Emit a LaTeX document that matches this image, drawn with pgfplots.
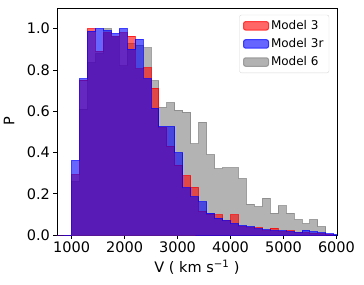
\documentclass[border=0pt]{standalone}
\usepackage{fontspec}
\setmainfont{DejaVu Sans}
\usepackage{pgfplots}
\pgfplotsset{compat=1.18}
\usetikzlibrary{calc}
\definecolor{mgray}{RGB}{128,128,128}
\definecolor{mred}{RGB}{255,0,0}
\definecolor{mblue}{RGB}{0,0,255}
\begin{document}
\begin{tikzpicture}
\begin{axis}[name=ax, width=280pt, height=227pt, scale only axis,
  xmin=725, xmax=6010, ymin=0, ymax=1.1,
  xtick={1000,2000,3000,4000,5000,6000},
  ytick={0,0.2,0.4,0.6,0.8,1.0},
  /pgf/number format/assume math mode=true,
  /pgf/number format/1000 sep={},
  yticklabel style={/pgf/number format/fixed,/pgf/number format/precision=1,/pgf/number format/fixed zerofill},
  tick label style={font=\fontsize{14.5}{16}\selectfont},
  label style={font=\fontsize{14.5}{16}\selectfont},
  tick align=outside, tick pos=left, major tick length=3.5pt,
  every tick/.style={black, line width=0.8pt},
  axis line style={black, line width=0.8pt},
  xlabel={V ( km s\textsuperscript{−1} )},
  legend cell align=left,
  legend style={at={(rel axis cs:0.972,0.97)}, anchor=north east, draw=black!15, rounded corners=2pt,
    font=\fontsize{12}{14}\selectfont, row sep=3.5pt, inner sep=3.5pt},
  legend image code/.code={\draw[#1] (0pt,-4.2pt) rectangle (25pt,4.2pt);},
]
\addlegendimage{fill=mred, fill opacity=0.6, draw=mred, draw opacity=0.7, line width=1pt}
\addlegendentry{Model 3}
\addlegendimage{fill=mblue, fill opacity=0.6, draw=mblue, draw opacity=0.7, line width=1pt}
\addlegendentry{Model 3r}
\addlegendimage{fill=mgray, fill opacity=0.6, draw=mgray, draw opacity=0.7, line width=1pt}
\addlegendentry{Model 6}

\addplot[forget plot, const plot mark left, fill=mgray, fill opacity=0.6, draw=mgray, draw opacity=0.7, line width=1pt] coordinates {
(1000,0.26)(1150,0.61)(1300,0.837)(1450,0.88)(1600,1.0)(1750,0.96)(1900,0.82)(2050,0.93)(2200,0.92)(2350,0.907)(2500,0.748)(2650,0.618)(2800,0.642)(2950,0.605)(3100,0.595)(3250,0.442)(3400,0.547)(3550,0.39)(3700,0.32)(3850,0.325)(4000,0.325)(4150,0.273)(4300,0.15)(4450,0.138)(4600,0.179)(4750,0.106)(4900,0.141)(5050,0.106)(5200,0.075)(5350,0.055)(5500,0.075)(5650,0.04)(5800,0.04)
} \closedcycle;

\addplot[forget plot, const plot mark left, fill=mred, fill opacity=0.6, draw=mred, draw opacity=0.7, line width=1pt] coordinates {
(725,0)(1000,0.293)(1150,0.75)(1300,1.0)(1450,0.89)(1600,0.98)(1750,0.96)(1900,0.98)(2050,0.964)(2200,0.805)(2350,0.81)(2500,0.712)(2650,0.52)(2800,0.431)(2950,0.338)(3100,0.288)(3250,0.231)(3400,0.114)(3550,0.10)(3700,0.098)(3850,0.07)(4000,0.098)(4150,0.04)(4300,0.035)(4450,0.035)(4600,0.02)(4750,0.033)(4900,0.015)(5050,0.02)(5200,0.01)(5350,0.012)(5500,0.008)(5650,0.005)(5800,0.003)(5950,0.003)
} \closedcycle;

\addplot[forget plot, const plot mark left, fill=mblue, fill opacity=0.6, draw=mblue, draw opacity=0.7, line width=1pt] coordinates {
(725,0)(1000,0.36)(1150,0.756)(1300,0.987)(1450,1.0)(1600,0.99)(1750,0.976)(1900,1.0)(2050,0.90)(2200,0.948)(2350,0.756)(2500,0.613)(2650,0.525)(2800,0.525)(2950,0.398)(3100,0.228)(3250,0.185)(3400,0.16)(3550,0.106)(3700,0.08)(3850,0.068)(4000,0.055)(4150,0.045)(4300,0.04)(4450,0.03)(4600,0.025)(4750,0.02)(4900,0.02)(5050,0.015)(5200,0.012)(5350,0.022)(5500,0.015)(5650,0.01)(5800,0.005)(5950,0.003)(6000,0.003)
} \closedcycle;
\end{axis}
\node[rotate=90, font=\fontsize{14.5}{16}\selectfont, anchor=center] at ($(ax.west)+(-48pt,0)$) {P};
\pgfresetboundingbox
\path ($(ax.south west)+(-57pt,-49pt)$) rectangle ($(ax.north east)+(27pt,8pt)$);
\end{tikzpicture}
\end{document}
